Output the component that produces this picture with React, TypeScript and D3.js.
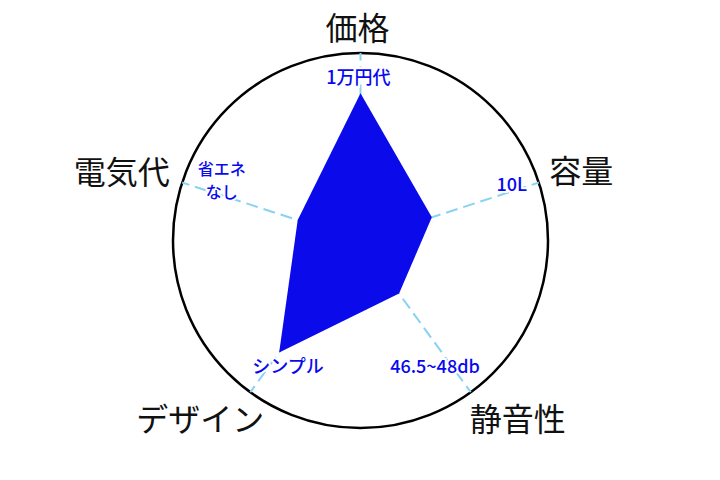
import React, { useEffect, useRef } from 'react';
import * as d3 from 'd3';

// 軸ラベル（時計回り、上から）
const axes = ['価格', '容量', '静音性', 'デザイン', '電気代'];
// 各軸の評価値（0〜5）
const scores = [3.93, 2.0, 1.75, 3.69, 1.76];
// 軸上の注記
const notes = [['1万円代'], ['10L'], ['46.5~48db'], ['シンプル'], ['省エネ', 'なし']];

const App = () => {
    const svgRef = useRef(null);

    useEffect(() => {
        const svg = d3.select(svgRef.current);
        svg.selectAll('*').remove();

        const cx = 360.5;
        const cy = 240.5;
        const R = 187.5;
        const font = '"Noto Sans CJK JP", "Noto Sans", sans-serif';

        const rScale = d3.scaleLinear().domain([0, 5]).range([0, R]);
        const angle = d3.scaleLinear().domain([0, axes.length]).range([0, 2 * Math.PI]);

        // 角度と半径から座標
        const polar = (i: number, r: number): [number, number] => {
            const a = angle(i) - Math.PI / 2;
            return [cx + r * Math.cos(a), cy + r * Math.sin(a)];
        };

        const g = svg.append('g');

        // 外周
        g.append('circle')
            .attr('cx', cx)
            .attr('cy', cy)
            .attr('r', R)
            .attr('fill', 'none')
            .attr('stroke', '#000')
            .attr('stroke-width', 2.5);

        // 点線の軸
        axes.forEach((_, i) => {
            const [x, y] = polar(i, R);
            g.append('line')
                .attr('x1', cx)
                .attr('y1', cy)
                .attr('x2', x)
                .attr('y2', y)
                .attr('stroke', '#88d2f2')
                .attr('stroke-width', 2)
                .attr('stroke-dasharray', '12,6');
        });

        // レーダー
        const line = d3.lineRadial<number>()
            .angle((_, i) => angle(i))
            .radius(d => rScale(d))
            .curve(d3.curveLinearClosed);

        g.append('path')
            .datum(scores)
            .attr('transform', `translate(${cx},${cy})`)
            .attr('d', line)
            .attr('fill', '#0a0aea');

        // 注記（軸の上）— 行ごとに別の text
        const noteRadius = [165, 159, 154, 154, 146];
        const noteOffset = [[-2, 0], [0, -8], [-16, 0], [18, 0], [0, -16]];
        const noteSize = [18, 18, 18, 18, 16];
        const lineGap = 23;
        notes.forEach((lines, i) => {
            const [x, y] = polar(i, noteRadius[i]);
            lines.forEach((s, k) => {
                g.append('text')
                    .attr('x', x + noteOffset[i][0])
                    .attr('y', y + noteOffset[i][1] + (k - (lines.length - 1) / 2) * lineGap)
                    .attr('text-anchor', 'middle')
                    .attr('dominant-baseline', 'central')
                    .attr('font-family', font)
                    .attr('font-size', noteSize[i])
                    .attr('font-weight', 500)
                    .attr('fill', '#0808f0')
                    .attr('stroke', '#fff')
                    .attr('stroke-width', 4)
                    .attr('paint-order', 'stroke')
                    .text(s);
            });
        });

        // 軸タイトル
        const titleRadius = [215, 230, 230, 230, 230];
        const titleOffset = [[-3, 0], [2, 0], [22, -10], [-25, -10], [-20, 1]];
        axes.forEach((name, i) => {
            const [x, y] = polar(i, titleRadius[i]);
            g.append('text')
                .attr('x', x + titleOffset[i][0])
                .attr('y', y + titleOffset[i][1])
                .attr('text-anchor', 'middle')
                .attr('dominant-baseline', 'central')
                .attr('font-family', font)
                .attr('font-size', 32)
                .attr('fill', '#111')
                .text(name);
        });
    }, []);

    return (
        <svg ref={svgRef} width={720} height={480}
             style={{ position: 'absolute', left: 0, top: 0, background: '#fff' }} />
    );
};

export default App;
